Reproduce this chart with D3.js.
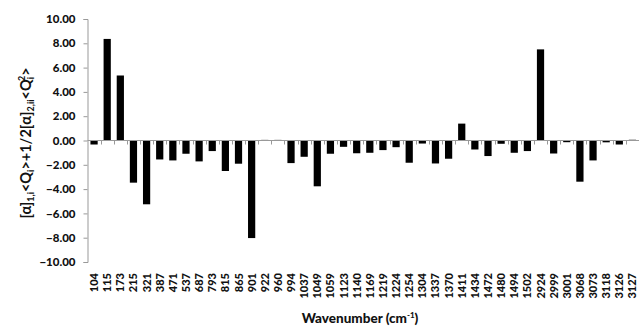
<!DOCTYPE html>
<html><head><meta charset="utf-8">
<script src="https://cdn.jsdelivr.net/npm/d3@7"></script>
<style>body{margin:0;background:#fff}svg{display:block}</style>
</head><body><svg id="c" width="639" height="330"></svg>
<script>
const categories = ["104","115","173","215","321","387","471","537","687","793","815","865","901","922","960","994","1037","1049","1059","1123","1140","1169","1219","1224","1254","1304","1337","1370","1411","1434","1472","1480","1494","1502","2924","2999","3001","3068","3073","3118","3126","3127"];
const values = [-0.33,8.36,5.35,-3.47,-5.25,-1.56,-1.64,-1.09,-1.72,-0.87,-2.51,-1.91,-8.03,0.05,0.05,-1.86,-1.34,-3.77,-1.09,-0.52,-1.05,-1.01,-0.79,-0.55,-1.83,-0.25,-1.89,-1.5,1.39,-0.74,-1.28,-0.27,-1.01,-0.87,7.5,-1.07,-0.14,-3.39,-1.64,-0.15,-0.33,0.06];
const yTicks = [10,8,6,4,2,0,-2,-4,-6,-8,-10];

const font = "Lato, 'Open Sans', sans-serif";
const svg = d3.select("#c");
const mL = 87.5, mR = 639, mT = 19, mB = 262;
const x = d3.scaleBand().domain(categories).range([mL, mR]).paddingInner(0.45).paddingOuter(0.225);
const xb = d3.scaleBand().domain(categories).range([mL, mR]);
const y = d3.scaleLinear().domain([-10, 10]).range([mB, mT]);

// y axis
const ya = svg.append("g").attr("transform", `translate(${mL},0)`)
  .call(d3.axisLeft(y).tickValues(yTicks).tickFormat(d3.format(".2f")).tickSize(4).tickPadding(8));
ya.select(".domain").attr("stroke", "#999");
ya.selectAll(".tick line").attr("stroke", "#999");
ya.selectAll(".tick text").attr("font-family", font).attr("font-weight", "900").attr("font-size", "11.5px").attr("fill", "#111");

// bars
svg.append("g").selectAll("rect").data(values).join("rect")
  .attr("x", (d, i) => x(categories[i]))
  .attr("width", x.bandwidth())
  .attr("y", d => y(Math.max(0, d)))
  .attr("height", d => Math.max(1, Math.abs(y(d) - y(0))))
  .attr("fill", "#000");

// zero axis with boundary ticks
const zg = svg.append("g");
zg.append("line").attr("x1", mL).attr("x2", mR).attr("y1", y(0)).attr("y2", y(0)).attr("stroke", "#999");
zg.selectAll("line.t").data(categories.slice(1)).join("line").attr("class", "t")
  .attr("x1", d => Math.round(xb(d)) + 0.5).attr("x2", d => Math.round(xb(d)) + 0.5)
  .attr("y1", y(0)).attr("y2", y(0) + 4).attr("stroke", "#999");

// x labels
svg.append("g").selectAll("text").data(categories).join("text")
  .attr("transform", d => `translate(${xb(d) + xb.bandwidth() / 2 + 4},273) rotate(-90)`)
  .attr("text-anchor", "end")
  .attr("font-family", font).attr("font-weight", "900").attr("font-size", "11px").attr("fill", "#111")
  .text(d => d);

// x title
const xt = svg.append("text").attr("x", 360).attr("y", 323).attr("text-anchor", "middle")
  .attr("font-family", font).attr("font-weight", "900").attr("font-size", "13.5px").attr("fill", "#111");
xt.append("tspan").text("Wavenumber (cm");
xt.append("tspan").attr("font-size", "8px").attr("dy", -5).text("-1");
xt.append("tspan").attr("dy", 5).text(")");

// y title
const yt = svg.append("text").attr("transform", "translate(31,143) rotate(-90)").attr("text-anchor", "middle")
  .attr("font-family", font).attr("font-weight", "bold").attr("font-size", "14.5px").attr("fill", "#111");
const parts = [["[α]",0],["1,i",1],["<Q",0],["i",1],[">+1/2[α]",0],["2,ii",1],["<Q",0],["i",1],["2",2],[">",0]];
let prev = 0;
parts.forEach(([t, s]) => {
  const off = s === 1 ? 3 : s === 2 ? -6 : 0;
  const sp = yt.append("tspan").attr("dy", off - prev).text(t);
  if (s) sp.attr("font-size", "9px");
  if (s === 2) sp.attr("dx", -4);
  prev = off;
});
</script></body></html>
